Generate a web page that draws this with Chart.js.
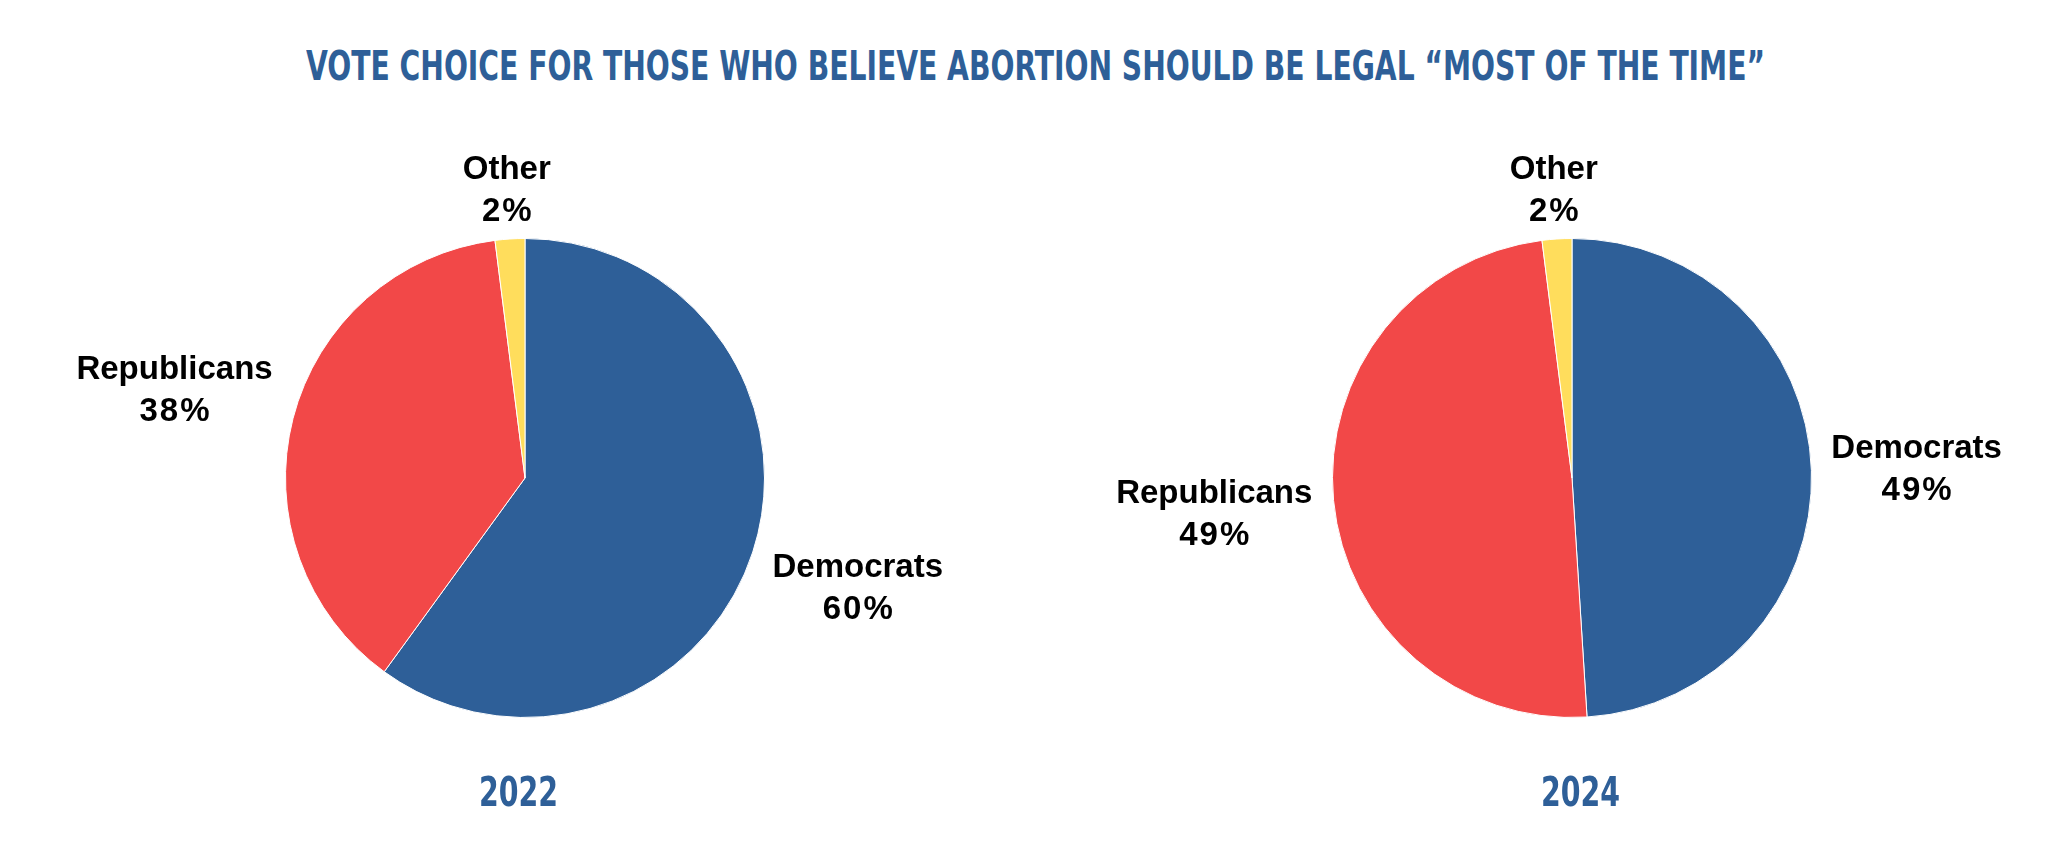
<!DOCTYPE html>
<html>
<head>
<meta charset="utf-8">
<script src="https://cdn.jsdelivr.net/npm/chart.js@4.4.1/dist/chart.umd.min.js"></script>
<style>
  html, body { margin: 0; padding: 0; background: #fff; }
  #wrap { position: relative; width: 2072px; height: 852px; overflow: hidden; }
  .cond { position: absolute; white-space: nowrap; color: #2E5F98; font-weight: bold;
          font-family: "Liberation Sans Narrow", "DejaVu Sans Condensed", "Roboto", sans-serif;
          transform-origin: left top; }
  canvas { position: absolute; top: 0; }
</style>
</head>
<body>
<div id="wrap">
  <div id="title" class="cond" style="font-size:40px;">VOTE CHOICE FOR THOSE WHO BELIEVE ABORTION SHOULD BE LEGAL “MOST OF THE TIME”</div>
  <canvas id="pie2022" width="1036" height="852" style="left:0"></canvas>
  <canvas id="pie2024" width="1036" height="852" style="left:1036px"></canvas>
  <div id="year2022" class="cond" style="font-size:40px;"></div>
  <div id="year2024" class="cond" style="font-size:40px;"></div>
</div>
<script>
const categories = ['Democrats', 'Republicans', 'Other'];
const values2022 = [60, 38, 2];
const values2024 = [49, 49, 2];
const years = ['2022', '2024'];
const sliceColors = ['#2E5F98', '#F24848', '#FFDD5C'];

// stretch a condensed text block to a target box (left, right, cap-top)
function fitText(el, left, right, capTop, capH) {
    el.style.left = '0px';
    el.style.top = '0px';
    const w = el.getBoundingClientRect().width;
    const sx = (right - left) / w;
    el.style.transform = 'scaleX(' + sx + ')';
    el.style.left = left + 'px';
    // approximate cap top inside the line box
    const fs = parseFloat(el.style.fontSize);
    el.style.top = (capTop - fs * 0.38 + (fs * 0.72 - capH) / 2 + 6) + 'px';
}

fitText(document.getElementById('title'), 306, 1765, 52, 29);
document.getElementById('year2022').textContent = years[0];
document.getElementById('year2024').textContent = years[1];
fitText(document.getElementById('year2022'), 479, 558, 778, 29);
fitText(document.getElementById('year2024'), 1541, 1620, 778, 29);

const labelFont = 'bold 33px "Liberation Sans", Arial, sans-serif';

const outsideLabels = {
    id: 'outsideLabels',
    afterDatasetsDraw(chart) {
        const ctx = chart.ctx;
        const meta = chart.getDatasetMeta(0);
        const data = chart.data.datasets[0].data;
        ctx.save();
        ctx.font = labelFont;
        ctx.fillStyle = '#000';
        ctx.textAlign = 'center';
        ctx.textBaseline = 'alphabetic';
        meta.data.forEach(function(arc, i) {
            const p = arc.getProps(['x', 'y', 'startAngle', 'endAngle', 'outerRadius'], true);
            const mid = (p.startAngle + p.endAngle) / 2;
            const dx = Math.cos(mid), dy = Math.sin(mid);
            const line1 = chart.data.labels[i];
            const line2 = data[i] + '%';
            ctx.letterSpacing = '0px';
            const hw = Math.max(ctx.measureText(line1).width, ctx.measureText(line2).width) / 2;
            const hh = 34;
            const gap = 14 + 5 * Math.abs(dx);
            const dist = p.outerRadius + gap + hw * Math.abs(dx) + hh * Math.abs(dy);
            const cx = p.x + dx * dist;
            const cy = p.y + dy * dist;
            ctx.fillText(line1, cx, cy - 9);
            ctx.letterSpacing = '2px';
            ctx.fillText(line2, cx + 1, cy + 33);
        });
        ctx.restore();
    }
};

function makePie(canvasId, values, padding) {
    return new Chart(document.getElementById(canvasId), {
        type: 'pie',
        data: {
            labels: categories,
            datasets: [{
                data: values,
                backgroundColor: sliceColors,
                borderColor: '#ffffff',
                borderWidth: 1
            }]
        },
        options: {
            responsive: false,
            animation: false,
            devicePixelRatio: 1,
            layout: { padding: padding },
            plugins: {
                legend: { display: false },
                tooltip: { enabled: false }
            }
        },
        plugins: [outsideLabels]
    });
}

makePie('pie2022', values2022, { left: 285, right: 271, top: 238, bottom: 134 });
makePie('pie2024', values2024, { left: 296, right: 260, top: 238, bottom: 134 });
</script>
</body>
</html>
